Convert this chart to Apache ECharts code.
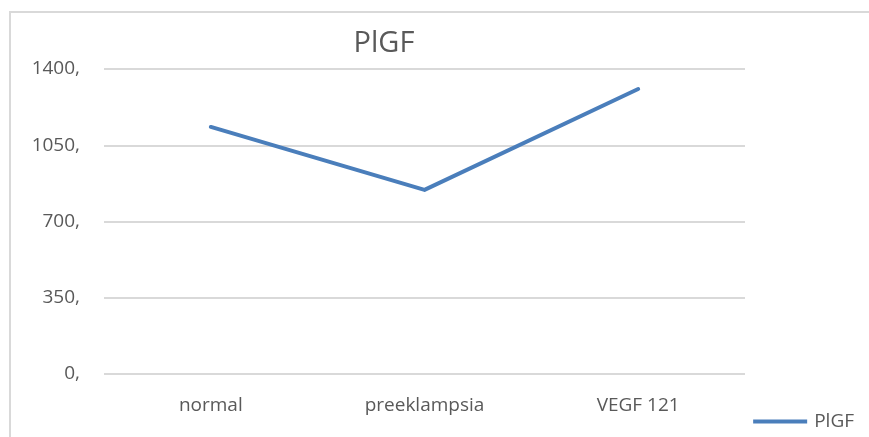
<!DOCTYPE html>
<html>
<head>
<meta charset="utf-8">
<script src="https://cdn.jsdelivr.net/npm/echarts@6/dist/echarts.min.js"></script>
<style>
  html, body { margin: 0; padding: 0; background: #fff; }
  #frame { position: absolute; left: 9px; top: 11px; width: 900px; height: 460px; border: 2px solid #d9d9d9; box-sizing: border-box; }
  #main { position: absolute; left: 0; top: 0; width: 869px; height: 437px; }
</style>
</head>
<body>
<div id="frame"></div>
<div id="main"></div>
<script>
// 数据
const categories = ['normal', 'preeklampsia', 'VEGF 121'];
const plgfValues = [1134, 845, 1308];
const yTicks = [0, 350, 700, 1050, 1400];

const chart = echarts.init(document.getElementById('main'));
const option = {
    backgroundColor: 'transparent',
    animation: false,
    title: {
        text: 'PlGF',
        left: 379,
        top: 24,
        textAlign: 'center',
        textStyle: { fontFamily: 'Open Sans', fontSize: 29, fontWeight: 'normal', color: '#595959' }
    },
    legend: {
        right: 10,
        top: 407,
        itemWidth: 54,
        itemHeight: 4,
        itemGap: 0,
        icon: 'rect',
        textStyle: { fontFamily: 'Open Sans', fontSize: 19, color: '#595959', padding: [0, 0, 0, 2] },
        data: ['PlGF']
    },
    grid: { left: 104, right: 124, top: 69, bottom: 63 },
    xAxis: {
        type: 'category',
        data: categories,
        boundaryGap: true,
        axisLine: { show: false },
        axisTick: { show: false },
        axisLabel: { fontFamily: 'Open Sans', fontSize: 19, color: '#595959', margin: 22 }
    },
    yAxis: {
        type: 'value',
        min: yTicks[0],
        max: yTicks[yTicks.length - 1],
        interval: 350,
        axisLine: { show: false },
        axisTick: { show: false },
        axisLabel: {
            fontFamily: 'Open Sans', fontSize: 19, color: '#595959', margin: 24,
            formatter: v => v + ','
        },
        splitLine: { lineStyle: { color: '#d9d9d9', width: 2 } }
    },
    series: [{
        name: 'PlGF',
        type: 'line',
        data: plgfValues,
        symbol: 'none',
        lineStyle: { color: '#4a7ebb', width: 4, cap: 'round', join: 'round' },
        itemStyle: { color: '#4a7ebb' }
    }]
};
chart.setOption(option);
</script>
</body>
</html>
